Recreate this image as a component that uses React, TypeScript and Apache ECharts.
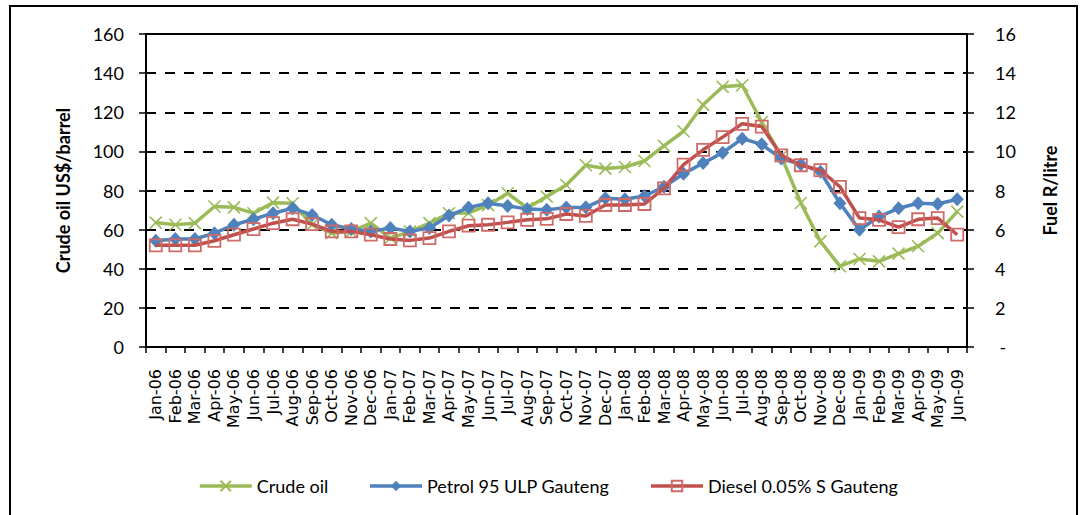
import React, { useEffect, useRef } from "react";
import * as echarts from "echarts";

const months: string[] = [
  "Jan-06", "Feb-06", "Mar-06", "Apr-06", "May-06", "Jun-06", "Jul-06", "Aug-06", "Sep-06", "Oct-06", "Nov-06", "Dec-06",
  "Jan-07", "Feb-07", "Mar-07", "Apr-07", "May-07", "Jun-07", "Jul-07", "Aug-07", "Sep-07", "Oct-07", "Nov-07", "Dec-07",
  "Jan-08", "Feb-08", "Mar-08", "Apr-08", "May-08", "Jun-08", "Jul-08", "Aug-08", "Sep-08", "Oct-08", "Nov-08", "Dec-08",
  "Jan-09", "Feb-09", "Mar-09", "Apr-09", "May-09", "Jun-09",
];

const crudeOil: number[] = [
  63.6, 62.5, 63.3, 71.8, 71.4, 68.4, 73.8, 73.5, 62.5, 58.2, 59.0, 63.3,
  55.7, 59.0, 63.3, 68.4, 68.5, 72.5, 78.6, 71.0, 76.9, 82.8, 92.9, 91.2,
  92.0, 95.1, 102.8, 110.3, 123.8, 133.0, 133.8, 115.0, 97.5, 73.6, 54.0, 41.3,
  45.0, 43.8, 47.7, 51.5, 58.2, 69.2,
];

const petrol95: number[] = [
  5.43, 5.52, 5.52, 5.82, 6.25, 6.53, 6.84, 7.09, 6.75, 6.25, 6.03, 5.91,
  6.08, 5.91, 6.08, 6.72, 7.13, 7.35, 7.21, 7.06, 7.01, 7.13, 7.14, 7.6,
  7.55, 7.72, 8.19, 8.86, 9.4, 9.93, 10.65, 10.36, 9.63, 9.34, 8.96, 7.35,
  5.99, 6.67, 7.09, 7.35, 7.31, 7.55,
];

const diesel: number[] = [
  5.2, 5.2, 5.2, 5.43, 5.74, 6.03, 6.33, 6.53, 6.28, 5.91, 5.91, 5.74,
  5.52, 5.45, 5.57, 5.91, 6.2, 6.25, 6.37, 6.5, 6.55, 6.8, 6.7, 7.26,
  7.26, 7.31, 8.11, 9.32, 10.08, 10.73, 11.41, 11.27, 9.8, 9.29, 9.04, 8.19,
  6.59, 6.5, 6.13, 6.53, 6.59, 5.74,
];

const seriesNames: string[] = ["Crude oil", "Petrol 95 ULP Gauteng", "Diesel 0.05% S Gauteng"];

const GREEN = "#9BBB59";
const BLUE = "#4F81BD";
const RED = "#C0504D";

export default function App() {
  const ref = useRef<HTMLDivElement>(null);

  useEffect(() => {
    if (!ref.current) return;
    const chart = echarts.init(ref.current, undefined, { renderer: "svg" });
    const labelFont = "Lato";
    chart.setOption({
      animation: false,
      backgroundColor: "#fff",
      graphic: [
        {
          type: "rect",
          shape: { x: 10, y: 6, width: 1067, height: 530 },
          style: { fill: "none", stroke: "#000", lineWidth: 2 },
          silent: true,
          z: 100,
        },
      ],
      grid: {
        left: 146,
        right: 113,
        top: 34,
        bottom: 168,
        show: true,
        borderColor: "#000",
        borderWidth: 2,
        backgroundColor: "transparent",
      },
      legend: {
        left: 193,
        top: 472,
        itemWidth: 52,
        itemHeight: 13,
        itemGap: 40,
        lineStyle: { width: 3.5 },
        textStyle: { fontFamily: labelFont, fontSize: 18, color: "#000" },
        data: seriesNames,
      },
      xAxis: {
        type: "category",
        data: months,
        boundaryGap: true,
        axisLine: { show: true, lineStyle: { color: "#000", width: 2 } },
        axisTick: { show: true, length: 6, inside: false, lineStyle: { color: "#000", width: 1.5 } },
        axisLabel: {
          interval: 0,
          rotate: 90,
          margin: 22,
          color: "#000",
          fontFamily: "DejaVu Sans",
          fontSize: 16,
        },
        splitLine: { show: false },
      },
      yAxis: [
        {
          type: "value",
          min: 0,
          max: 160,
          interval: 20,
          position: "left",
          name: "Crude oil US$/barrel",
          nameLocation: "middle",
          nameGap: 74,
          nameTextStyle: { fontFamily: labelFont, fontSize: 18, fontWeight: "bold", color: "#000" },
          axisLine: { show: true, lineStyle: { color: "#000", width: 2 } },
          axisTick: { show: true, length: 7, lineStyle: { color: "#000", width: 1.5 } },
          axisLabel: { margin: 22, color: "#000", fontFamily: labelFont, fontSize: 18 },
          splitLine: { show: true, lineStyle: { color: "#000", width: 1.8, type: [10, 9] } },
        },
        {
          type: "value",
          min: 0,
          max: 16,
          interval: 2,
          position: "right",
          name: "Fuel R/litre",
          nameLocation: "middle",
          nameGap: 74,
          nameTextStyle: { fontFamily: labelFont, fontSize: 18, fontWeight: "bold", color: "#000" },
          axisLine: { show: true, lineStyle: { color: "#000", width: 2 } },
          axisTick: { show: true, length: 7, lineStyle: { color: "#000", width: 1.5 } },
          axisLabel: {
            margin: 28,
            color: "#000",
            fontFamily: labelFont,
            fontSize: 18,
            formatter: (v: number) => (v === 0 ? " -" : String(v)),
          },
          splitLine: { show: false },
        },
      ],
      series: [
        {
          name: seriesNames[0],
          type: "line",
          yAxisIndex: 0,
          data: crudeOil,
          symbol: "path://M0,0L10,10M10,0L0,10",
          symbolSize: 12,
          lineStyle: { color: GREEN, width: 3.5 },
          itemStyle: { color: GREEN, borderColor: GREEN, borderWidth: 1.6 },
          z: 2,
        },
        {
          name: seriesNames[1],
          type: "line",
          yAxisIndex: 1,
          data: petrol95,
          symbol: "diamond",
          symbolSize: [13, 14],
          lineStyle: { color: BLUE, width: 3.5 },
          itemStyle: { color: BLUE, borderColor: BLUE, borderWidth: 0 },
          z: 3,
        },
        {
          name: seriesNames[2],
          type: "line",
          yAxisIndex: 1,
          data: diesel,
          symbol: "rect",
          symbolSize: 12,
          lineStyle: { color: RED, width: 3.5 },
          itemStyle: { color: "rgba(255,255,255,0)", borderColor: "#D06A67", borderWidth: 1.8 },
          z: 4,
        },
      ],
    });
    return () => chart.dispose();
  }, []);

  return (
    <div
      ref={ref}
      style={{ position: "absolute", left: 0, top: 0, width: 1080, height: 515 }}
    />
  );
}
